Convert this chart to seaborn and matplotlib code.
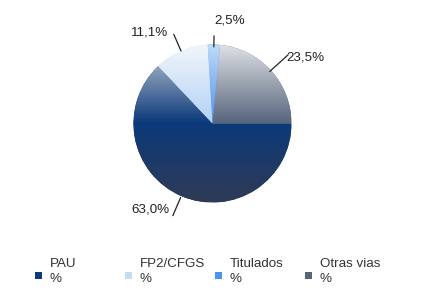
import numpy as np
import matplotlib
matplotlib.use("Agg")
import matplotlib.pyplot as plt
import seaborn as sns
from matplotlib.colors import LinearSegmentedColormap
from matplotlib.patches import Rectangle

categories = ["PAU", "FP2/CFGS", "Titulados", "Otras vias"]
values = [63.0, 11.1, 2.5, 23.5]
value_labels = ["63,0%", "11,1%", "2,5%", "23,5%"]
legend_colors = ["#0d3a78", "#c6dbf5", "#4a92ec", "#5a6478"]
# gradient stops (top, middle, bottom of pie) per slice
grad_stops = [
    ["#c4ccd8", "#0b397a", "#2f3b55"],
    ["#f2f6fb", "#b2d1f6", "#9cc2f0"],
    ["#c0dbf9", "#4a92ec", "#3a80d8"],
    ["#dfe2e6", "#56647c", "#404c60"],
]

sns.set_theme(style="white")
plt.rcParams["font.family"] = ["Liberation Sans", "DejaVu Sans"]
FS = 9.6

W, H = 425, 306
fig = plt.figure(figsize=(W / 100, H / 100), dpi=100)
ax = fig.add_axes([0, 0, 1, 1])
cx, cy, r = 212.5, H - 123.5, 79.0

wedges, _ = ax.pie(values, startangle=0, counterclock=False, center=(cx, cy),
                   radius=r, colors=legend_colors,
                   wedgeprops=dict(linewidth=0))

grad = np.linspace(0, 1, 256).reshape(-1, 1)
for w, stops in zip(wedges, grad_stops):
    cmap = LinearSegmentedColormap.from_list("g", list(zip([0, 0.5, 1], stops)))
    im = ax.imshow(grad, extent=(cx - r, cx + r, cy - r, cy + r), cmap=cmap,
                   origin="upper", aspect="auto", interpolation="bilinear", zorder=2)
    im.set_clip_path(w)

# leader line layout: (start factor, end factor, text dx px, text dy px (down +), ha)
leader_layout = [
    (1.02, 1.27, -3, -6, "right"),
    (1.00, 1.23, -6, -2, "right"),
    (0.97, 1.11, 0, -15, "left"),
    (0.98, 1.29, -2, 3, "left"),
]
for w, lab, (f0, f1, tdx, tdy, ha) in zip(wedges, value_labels, leader_layout):
    ang = np.deg2rad((w.theta1 + w.theta2) / 2)
    dx, dy = np.cos(ang), np.sin(ang)
    p0 = (cx + f0 * r * dx, cy + f0 * r * dy)
    p1 = (cx + f1 * r * dx, cy + f1 * r * dy)
    ax.plot([p0[0], p1[0]], [p0[1], p1[1]], color="#222222", lw=0.9, zorder=3)
    ax.text(p1[0] + tdx, p1[1] - tdy, lab, ha=ha, va="center", fontsize=FS,
            color="#222222")

ax.set_xlim(0, W)
ax.set_ylim(0, H)
ax.set_aspect("equal")
ax.axis("off")

# legend, one entry per fixed-width column
for i, (cat, col) in enumerate(zip(categories, legend_colors)):
    h = Rectangle((0, 0), 1, 1, facecolor=col, edgecolor="none")
    leg = fig.legend([h], [cat + "\n%"], loc="center left",
                     bbox_to_anchor=((35 + 90 * i) / W, 1 - 271.5 / H),
                     frameon=False, fontsize=FS, handlelength=0.52,
                     handleheight=0.52, handletextpad=0.6, borderpad=0,
                     borderaxespad=0, labelspacing=0)
    for t in leg.get_texts():
        t.set_color("#333333")
        t.set_linespacing(1.3)
    for hd in leg.legend_handles:
        hd.set_y(hd.get_y() - 3.0)

fig.savefig("out.png", dpi=100)
